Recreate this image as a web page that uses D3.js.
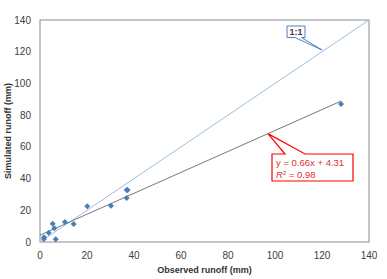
<!DOCTYPE html>
<html>
    <head>
		<meta charset= "utf-8">
		<script src= "https://cdn.jsdelivr.net/npm/d3@7"></script>
        <style>
            body { margin: 0; background: white; }
            text { font-family: "Liberation Sans", Arial, sans-serif; }
        </style>
    </head>
    <body>
        <svg id="fig" width="387" height="279"></svg>
        <script>
            // data
            var observed  = [1.7, 1.7, 3.7, 5.4, 6.1, 6.7, 10.6, 14.3, 20.1, 30.2, 36.9, 37.3, 36.9, 128.1];
            var simulated = [3.0, 1.9, 5.9, 11.5, 8.6, 1.7, 12.6, 11.3, 22.5, 22.9, 32.8, 32.8, 27.7, 87.0];
            var xTicks = [0, 20, 40, 60, 80, 100, 120, 140];
            var yTicks = [0, 20, 40, 60, 80, 100, 120, 140];
            var slope = 0.66, intercept = 4.31, r2 = 0.98;

            const plotLeft = 40, plotTop = 20, plotRight = 369, plotBottom = 242;

            var svg = d3.select("#fig");
            var x = d3.scaleLinear().domain([0, 140]).range([plotLeft, plotRight]);
            var y = d3.scaleLinear().domain([0, 140]).range([plotBottom, plotTop]);

            // frame
            svg.append("rect")
               .attr("x", plotLeft).attr("y", plotTop)
               .attr("width", plotRight - plotLeft).attr("height", plotBottom - plotTop)
               .attr("fill", "none").attr("stroke", "#8c8c8c").attr("stroke-width", 1);

            // tick labels
            svg.append("g").selectAll("text").data(yTicks).enter().append("text")
               .attr("x", 31).attr("y", d => y(d) + 3.5)
               .attr("text-anchor", "end").attr("font-size", "10px").attr("fill", "#404040")
               .text(d => d);
            svg.append("g").selectAll("text").data(xTicks).enter().append("text")
               .attr("x", d => x(d)).attr("y", 259)
               .attr("text-anchor", "middle").attr("font-size", "10px").attr("fill", "#404040")
               .text(d => d);

            // axis titles
            svg.append("text").attr("x", (plotLeft + plotRight) / 2).attr("y", 273)
               .attr("text-anchor", "middle").attr("font-size", "9px").attr("font-weight", "bold").attr("fill", "#333")
               .text("Observed runoff (mm)");
            svg.append("text").attr("transform", "translate(11," + ((plotTop + plotBottom) / 2) + ") rotate(-90)")
               .attr("text-anchor", "middle").attr("font-size", "9px").attr("font-weight", "bold").attr("fill", "#333")
               .text("Simulated runoff (mm)");

            // 1:1 line
            svg.append("line")
               .attr("x1", x(0)).attr("y1", y(0)).attr("x2", x(140)).attr("y2", y(140))
               .attr("stroke", "#9dbedb").attr("stroke-width", 1);

            // regression line
            var xMax = d3.max(observed);
            svg.append("line")
               .attr("x1", x(0)).attr("y1", y(intercept))
               .attr("x2", x(xMax)).attr("y2", y(slope * xMax + intercept))
               .attr("stroke", "#555").attr("stroke-width", 0.8);

            // points (square diamonds like Excel markers)
            svg.append("g").selectAll("path").data(observed).enter().append("path")
               .attr("d", "M0,-3L3,0L0,3L-3,0Z")
               .attr("transform", (d, i) => "translate(" + x(d) + "," + y(simulated[i]) + ")")
               .attr("fill", "#4a7ebb");

            // 1:1 callout
            svg.append("path")
               .attr("d", "M287,26 H305 V37.5 H301.5 L322,50 L295,37.5 H287 Z")
               .attr("fill", "white").attr("stroke", "#4f81bd").attr("stroke-width", 1);
            svg.append("text").attr("x", 296).attr("y", 35).attr("text-anchor", "middle")
               .attr("font-size", "9px").attr("font-weight", "bold").attr("fill", "#404040").text("1:1");

            // equation callout
            var px = x(97), py = y(slope * 97 + intercept);
            svg.append("path")
               .attr("d", "M272,154 H285 L" + px + "," + py + " L305,154 H353 V181 H272 Z")
               .attr("fill", "white").attr("stroke", "#ff0000").attr("stroke-width", 1.2);
            svg.append("text").attr("x", 276).attr("y", 166)
               .attr("font-size", "9.5px").attr("fill", "#e03030")
               .text("y = " + slope + "x + " + intercept);
            var t = svg.append("text").attr("x", 276).attr("y", 178)
               .attr("font-size", "9.5px").attr("fill", "#e03030");
            t.append("tspan").attr("font-style", "italic").text("R");
            t.append("tspan").attr("dy", -3).attr("font-size", "6px").text("2");
            t.append("tspan").attr("dy", 3).text(" = " + r2);
        </script>
    </body>
</html>
